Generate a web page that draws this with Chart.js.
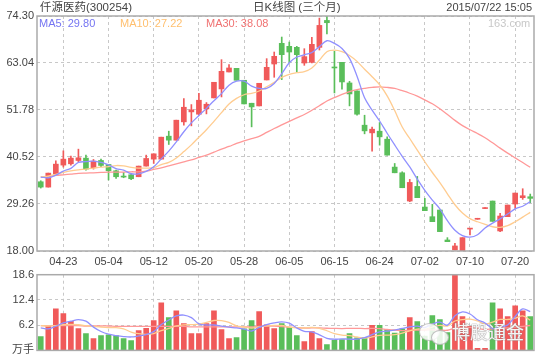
<!DOCTYPE html>
<html><head><meta charset="utf-8">
<script src="https://cdn.jsdelivr.net/npm/chart.js@4.4.0/dist/chart.umd.min.js"></script>
<style>
html,body{margin:0;padding:0;background:#fff;width:540px;height:360px;overflow:hidden;position:relative;}
canvas{position:absolute;left:0;}
#c1{top:0;}
#c2{top:262px;}
.t{position:absolute;white-space:nowrap;font-family:"Liberation Sans","Noto Sans CJK SC",sans-serif;font-size:11px;line-height:15px;color:#444;}
.bub{position:absolute;border:1px solid rgba(140,140,140,0.55);background:rgba(255,255,255,0.85);border-radius:50%;}
</style></head><body>
<canvas id="c1" width="540" height="270"></canvas>
<canvas id="c2" width="540" height="98"></canvas>
<div class="t" style="left:40px;top:0px;font-size:11.5px;">仟源医药(300254)</div>
<div class="t" style="left:253px;top:0px;font-size:11.5px;">日K线图 (三个月)</div>
<div class="t" style="right:8px;top:0px;">2015/07/22 15:05</div>
<div class="t" style="left:39px;top:16px;color:#7575f2;">MA5: 29.80</div>
<div class="t" style="left:120px;top:16px;color:#ffbf6e;">MA10: 27.22</div>
<div class="t" style="left:206px;top:16px;color:#f07272;">MA30: 38.08</div>
<div class="t" style="left:488px;top:16px;color:#c8c8c8;">163.com</div>
<div class="bub" style="left:419px;top:323px;width:19px;height:16px;"></div>
<div class="bub" style="left:431px;top:330px;width:16px;height:13px;"></div>
<div class="t" style="left:452px;top:320px;font-size:18px;line-height:22px;font-family:'Noto Sans CJK SC';color:rgba(255,255,255,0.92);text-shadow:0 0 1px #888,0 0 1px #888;">博股通金</div>
<script>
const dates = ['04-20','04-21','04-22','04-23','04-24','04-27','04-28','04-29','04-30',
 '05-04','05-05','05-06','05-07','05-08','05-11','05-12','05-13','05-14','05-15','05-18','05-19','05-20','05-21','05-22','05-25','05-26','05-27','05-28','05-29',
 '06-01','06-02','06-03','06-04','06-05','06-08','06-09','06-10','06-11','06-12','06-15','06-16','06-17','06-18','06-19','06-23','06-24','06-25','06-26','06-29','06-30',
 '07-01','07-02','07-03','07-06','07-07','07-08','07-09','07-10','07-13','07-14','07-15','07-16','07-17','07-20','07-21','07-22'];
const xTickLabels = ['04-23','05-04','05-12','05-20','05-28','06-05','06-15','06-24','07-02','07-10','07-20'];
const opens = [34.59,33.31,36.42,38.58,38.89,39.69,40.25,37.94,39.69,38.73,37.22,35.87,36.26,35.79,38.34,40.01,40.01,45.51,44.55,48.94,51.33,50.77,52.04,54.68,56.83,60.89,61.77,58.90,53.40,52.76,58.98,62.80,67.75,67.03,66.79,63.04,63.20,66.79,73.24,61.93,63.20,58.26,56.35,48.14,46.30,46.70,44.79,38.10,36.74,29.97,33.47,28.53,26.22,27.82,20.64,18.25,18.00,23.25,25.60,28.16,29.97,22.80,26.22,29.25,30.77,31.00];
const highs = [34.83,36.66,39.61,42.00,40.73,42.40,40.97,39.93,40.01,38.73,37.38,36.82,36.58,38.34,40.97,41.28,45.27,46.70,49.34,54.51,53.08,55.79,53.56,58.42,63.84,62.64,61.77,58.90,53.40,58.18,64.08,65.67,69.26,68.06,67.03,66.47,69.18,73.80,74.30,65.83,63.20,58.66,56.35,50.53,47.66,48.78,45.35,38.97,36.98,35.15,35.87,30.61,29.17,27.82,21.20,19.85,21.20,23.27,25.60,28.16,29.97,27.02,29.01,31.88,32.92,31.64];
const lows = [33.08,33.31,36.42,38.10,38.58,39.37,37.38,37.62,38.18,35.02,35.39,35.55,35.07,35.79,38.34,38.97,40.01,43.52,44.55,48.14,47.98,50.53,50.85,54.68,54.91,60.89,58.90,53.24,47.74,52.76,58.98,59.62,59.06,63.04,60.89,62.48,63.04,66.15,69.98,55.87,56.75,52.76,50.53,46.07,41.92,43.36,40.97,36.74,33.16,29.81,30.77,27.66,25.03,22.64,20.24,18.25,18.00,21.84,25.60,28.16,25.10,22.64,26.22,28.21,30.37,29.57];
const closes = [33.31,36.66,38.81,40.01,40.25,40.33,37.62,39.53,38.50,37.22,35.79,35.71,35.31,38.34,40.17,41.28,45.27,44.55,49.34,52.44,51.81,54.12,53.16,58.42,61.05,61.85,58.90,53.24,52.52,58.18,62.01,64.64,65.04,65.67,65.04,64.56,67.51,72.05,72.69,61.85,58.50,55.63,50.77,46.78,47.18,45.35,40.97,36.74,33.16,34.43,30.77,27.66,25.03,22.64,20.24,19.21,21.20,23.27,25.60,28.16,25.10,26.38,29.01,31.88,31.24,30.61];
const volumes = [3.41,6.10,10.24,9.02,7.15,5.36,4.15,2.93,3.66,3.82,3.66,2.93,2.44,4.88,5.45,7.32,11.70,8.05,9.75,6.58,4.15,4.15,6.58,9.75,5.12,2.93,3.17,5.28,7.32,9.51,6.26,5.36,6.58,5.69,3.66,2.19,4.63,2.93,1.46,2.52,2.68,4.15,3.09,3.17,6.18,6.18,5.12,4.23,5.28,8.05,7.07,3.49,8.53,7.56,4.39,18.53,8.29,5.90,0.49,0.49,11.70,10.24,8.29,10.97,9.75,8.29];
const priceTicks = [18.00,29.26,40.52,51.78,63.04,74.30];
const volumeTicks = [0,6.2,12.4,18.6];
// moving-average values before enough candles are on screen
const ma5Head = [35.71,35.55,36.18,37.14];
const ma10Head = [35.79,35.95,36.34,36.82,37.22,37.46,37.62,37.86,38.10];
const ma30Head = [35.71,35.87,36.10,36.26,36.42,36.58,36.66,36.74,36.82,36.90,36.90,36.90,36.98,36.98,37.14,37.54,37.94,38.42,38.89,39.37,39.85,40.41,40.97,41.68,42.40,43.04,43.78,44.40,44.95];
const vma5Head = [5.53,5.28,5.93,6.75];
const vma10Head = [6.1,6.0,6.1,6.3,6.4,6.3,6.1,5.9,5.7];
const vma30Head = [6.1,6.1,6.1,6.1,6.1,6.1,6.0,6.0,6.0,6.0,5.9,5.9,5.9,5.9,5.9,5.9,5.9,5.9,5.9,5.9,5.8,5.8,5.8,5.8,5.8,5.8,5.8,5.8,5.8];

function mean(a){ return a.reduce((s,v)=>s+v,0)/a.length; }
function movingAverage(src, head){
  const n = head.length + 1;
  return src.map((_,i)=> i < head.length ? head[i] : mean(src.slice(i-n+1,i+1)));
}
const UP = '#f05a5a', DOWN = '#5abe5a';
const candleColors = closes.map((c,i)=> c >= opens[i] ? UP : DOWN);
const FONT = '"Liberation Sans","Noto Sans CJK SC",sans-serif';
const C_MA5 = '#9090ff', C_MA10 = '#ffcc90', C_MA30 = '#ff9898';

const framePlugin = {
  id: 'frame',
  afterDraw(chart){
    const a = chart.chartArea, ctx = chart.ctx;
    ctx.save();
    ctx.strokeStyle = '#aaaaaa';
    ctx.lineWidth = 1.5;
    ctx.strokeRect(a.left, a.top, a.right - a.left, a.bottom - a.top);
    ctx.restore();
  }
};

function lineDs(label, data, color){
  return {type:'line', label, data, borderColor: color, borderWidth: 1.3, pointRadius: 0, tension: 0.35, fill: false, order: 0};
}

function xScale(showLabels){
  return {
    type: 'category',
    offset: true,
    grid: {
      offset: false, drawTicks: false, lineWidth: 1,
      color: ctx => xTickLabels.includes(dates[ctx.index]) ? '#c8c8c8' : 'rgba(0,0,0,0)'
    },
    border: {display: false, dash: [3,3]},
    ticks: {
      display: showLabels, autoSkip: false, maxRotation: 0, minRotation: 0, padding: 4,
      color: '#444', font: {family: FONT, size: 11},
      callback: (v, i) => xTickLabels.includes(dates[i]) ? dates[i] : ''
    },
    afterFit: s => { s.height = showLabels ? 19 : 0; }
  };
}
function yScale(min, max, ticks, fmt){
  return {
    min, max,
    afterBuildTicks: s => { s.ticks = ticks.map(v => ({value: v})); },
    grid: {drawTicks: false, color: '#c8c8c8', lineWidth: 1},
    border: {display: false, dash: [3,3]},
    ticks: {padding: 3, color: '#444', font: {family: FONT, size: 11}, callback: fmt},
    afterFit: s => { s.width = 37; }
  };
}

new Chart(document.getElementById('c1'), {
  data: {
    labels: dates,
    datasets: [
      lineDs('MA5', movingAverage(closes, ma5Head), C_MA5),
      lineDs('MA10', movingAverage(closes, ma10Head), C_MA10),
      lineDs('MA30', movingAverage(closes, ma30Head), C_MA30),
      {type:'bar', label:'body', data: opens.map((o,i)=>[o, closes[i]]), backgroundColor: candleColors,
       barThickness: 5, minBarLength: 1, grouped: false, order: 1, borderWidth: 0},
      {type:'bar', label:'wick', data: lows.map((l,i)=>[l, highs[i]]), backgroundColor: candleColors,
       barThickness: 1, minBarLength: 1, grouped: false, order: 2, borderWidth: 0}
    ]
  },
  options: {
    responsive: false, animation: false, devicePixelRatio: 1, events: [],
    layout: {autoPadding: false, padding: {top: 16, right: 6, left: 0, bottom: 0}},
    plugins: {legend: {display: false}, tooltip: {enabled: false}},
    scales: {
      x: xScale(true),
      y: yScale(18, 74.30, priceTicks, v => Number(v).toFixed(2))
    }
  },
  plugins: [framePlugin]
});

new Chart(document.getElementById('c2'), {
  data: {
    labels: dates,
    datasets: [
      lineDs('VMA5', movingAverage(volumes, vma5Head), C_MA5),
      lineDs('VMA10', movingAverage(volumes, vma10Head), C_MA10),
      lineDs('VMA30', movingAverage(volumes, vma30Head), C_MA30),
      {type:'bar', label:'volume', data: volumes, backgroundColor: candleColors,
       barThickness: 5, minBarLength: 1, grouped: false, order: 1, borderWidth: 0}
    ]
  },
  options: {
    responsive: false, animation: false, devicePixelRatio: 1, events: [],
    layout: {autoPadding: false, padding: {top: 12.7, right: 6, left: 0, bottom: 9}},
    plugins: {legend: {display: false}, tooltip: {enabled: false}},
    scales: {
      x: xScale(false),
      y: yScale(0, 18.6, volumeTicks, v => v === 0 ? '万手' : Number(v).toFixed(1))
    }
  },
  plugins: [framePlugin]
});
</script>
</body></html>
